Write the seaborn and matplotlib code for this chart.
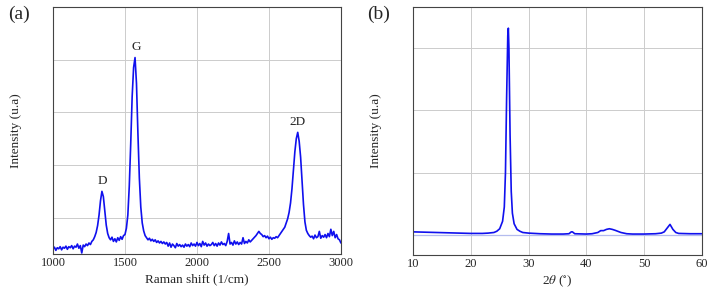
import matplotlib
matplotlib.use("Agg")
import matplotlib.pyplot as plt
import seaborn as sns
import numpy as np
import pandas as pd

# Raman spectrum (a): shift in 1/cm, intensity in arbitrary units
raman_shift = np.arange(1000, 3001, 10)
raman_intensity = [
    0.40, 0.44, 0.38, 0.43, 0.41, 0.45, 0.39, 0.44, 0.42, 0.46,
    0.40, 0.45, 0.43, 0.47, 0.41, 0.46, 0.44, 0.50, 0.42, 0.47,
    0.33, 0.48, 0.45, 0.50, 0.47, 0.52, 0.49, 0.55, 0.58, 0.64,
    0.72, 0.85, 1.05, 1.32, 1.50, 1.40, 1.12, 0.86, 0.70, 0.62,
    0.58, 0.63, 0.55, 0.60, 0.54, 0.62, 0.57, 0.64, 0.59, 0.66,
    0.68, 0.80, 1.05, 1.60, 2.40, 3.30, 3.85, 4.04, 3.55, 2.60,
    1.75, 1.20, 0.90, 0.75, 0.66, 0.62, 0.58, 0.61, 0.56, 0.59,
    0.55, 0.58, 0.53, 0.56, 0.52, 0.55, 0.51, 0.54, 0.50, 0.53,
    0.46, 0.52, 0.44, 0.50, 0.47, 0.43, 0.51, 0.46, 0.49, 0.45,
    0.48, 0.44, 0.50, 0.46, 0.49, 0.45, 0.52, 0.47, 0.50, 0.46,
    0.53, 0.47, 0.51, 0.45, 0.55, 0.48, 0.52, 0.46, 0.50, 0.47,
    0.49, 0.53, 0.47, 0.51, 0.46, 0.52, 0.48, 0.54, 0.49, 0.51,
    0.47, 0.55, 0.70, 0.50, 0.53, 0.48, 0.56, 0.50, 0.54, 0.49,
    0.53, 0.50, 0.62, 0.51, 0.55, 0.52, 0.58, 0.54, 0.57, 0.60,
    0.63, 0.66, 0.70, 0.74, 0.70, 0.68, 0.64, 0.66, 0.62, 0.65,
    0.60, 0.63, 0.59, 0.62, 0.61, 0.64, 0.62, 0.66, 0.70, 0.74,
    0.78, 0.82, 0.90, 0.98, 1.10, 1.28, 1.55, 1.90, 2.25, 2.50,
    2.62, 2.45, 2.15, 1.70, 1.25, 0.92, 0.76, 0.70, 0.66, 0.63,
    0.65, 0.60, 0.67, 0.62, 0.64, 0.74, 0.61, 0.66, 0.63, 0.68,
    0.62, 0.70, 0.64, 0.78, 0.66, 0.74, 0.62, 0.68, 0.60, 0.58,
    0.52,
]
raman_peaks = ["D", "G", "2D"]
raman_peak_x = [1340, 1575, 2700]
raman_peak_y = [1.50, 4.04, 2.62]

# XRD pattern (b): 2 theta in degrees, intensity in arbitrary units
xrd_angle = [10, 12, 14, 16, 18, 20, 22, 23, 24, 24.5, 25, 25.5, 25.8, 26.0,
             26.2, 26.4, 26.5, 26.6, 26.8, 27.0, 27.2, 27.5, 28, 28.5, 29, 30,
             32, 34, 36, 37.0, 37.4, 37.6, 38.0, 40, 41, 42, 42.5, 43, 43.5,
             44, 44.5, 45, 46, 47, 48, 50, 52, 53, 53.5, 54, 54.5, 55, 55.5,
             56, 58, 60]
xrd_intensity = [0.05, 0.045, 0.04, 0.035, 0.03, 0.025, 0.025, 0.03, 0.04, 0.06,
                 0.10, 0.22, 0.45, 1.0, 2.2, 3.2, 3.32, 3.0, 1.6, 0.7, 0.35,
                 0.18, 0.09, 0.06, 0.04, 0.03, 0.02, 0.015, 0.015, 0.02, 0.05,
                 0.05, 0.02, 0.015, 0.02, 0.04, 0.07, 0.07, 0.09, 0.10, 0.09,
                 0.075, 0.04, 0.02, 0.015, 0.015, 0.02, 0.03, 0.05, 0.11, 0.17,
                 0.09, 0.04, 0.025, 0.02, 0.02]

sns.set_style("whitegrid")
plt.rcParams["font.family"] = ["Liberation Serif", "DejaVu Serif"]
plt.rcParams["mathtext.fontset"] = "stix"

fig = plt.figure(figsize=(7.11, 2.91), dpi=100)
ax1 = fig.add_axes([0.0745, 0.127, 0.405, 0.849])
ax2 = fig.add_axes([0.581, 0.124, 0.406, 0.852])

line_color = "#1010ee"
raman_df = pd.DataFrame({"shift": raman_shift, "intensity": raman_intensity})
xrd_df = pd.DataFrame({"angle": xrd_angle, "intensity": xrd_intensity})

# (a) Raman
sns.lineplot(data=raman_df, x="shift", y="intensity", ax=ax1,
             color=line_color, lw=1.2)
for name, px, py in zip(raman_peaks, raman_peak_x, raman_peak_y):
    ax1.text(px, py + 0.08, name, ha="center", va="bottom", fontsize=9.5)
ax1.set_xlim(1000, 3000)
ax1.set_ylim(0.31, 5.0)
ax1.set_xticks([1000, 1500, 2000, 2500, 3000])
ax1.set_yticks([1, 2, 3, 4])
ax1.set_yticklabels([])
ax1.set_xlabel("Raman shift (1/cm)", fontsize=9.5, labelpad=3)
ax1.set_ylabel("Intensity (u.a)", fontsize=9.5, labelpad=19)
fig.text(0.012, 0.952, "(a)", fontsize=14, va="center")

# (b) XRD
ax2.axhline(0, color="#b4bcee", lw=0.9, zorder=1)
sns.lineplot(data=xrd_df, x="angle", y="intensity", ax=ax2,
             color=line_color, lw=1.2)
ax2.set_xlim(10, 60)
ax2.set_ylim(-0.32, 3.66)
ax2.set_xticks([10, 20, 30, 40, 50, 60])
ax2.set_yticks([0, 1, 2, 3])
ax2.set_yticklabels([])
ax2.set_xlabel(r"2$\theta$ ($^{\circ}$)", fontsize=9.5, labelpad=3)
ax2.set_ylabel("Intensity (u.a)", fontsize=9.5, labelpad=19)
fig.text(0.516, 0.952, "(b)", fontsize=14, va="center")

for ax in (ax1, ax2):
    ax.grid(True, color="#cccccc", lw=0.7)
    for s in ax.spines.values():
        s.set_color("#444444")
        s.set_linewidth(0.8)
    ax.tick_params(axis="x", labelsize=9, pad=2, length=0)
    ax.tick_params(axis="y", length=0)

fig.savefig("out.png", dpi=100)
